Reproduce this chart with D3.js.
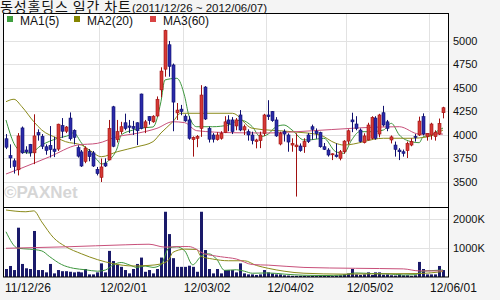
<!DOCTYPE html>
<html>
<head>
<meta charset="utf-8">
<script src="https://cdn.jsdelivr.net/npm/d3@7"></script>
<style>
  body { margin: 0; background: #f4f4f4; }
  svg { display: block; }
</style>
</head>
<body>
<div id="chart"></div>
<script>
// trading days shown on the chart
const dates = [
  "11/12/26","11/12/27","11/12/28","11/12/29",
  "12/01/02","12/01/03","12/01/04","12/01/05","12/01/06","12/01/09","12/01/10","12/01/11","12/01/12","12/01/13",
  "12/01/16","12/01/17","12/01/18","12/01/19","12/01/20","12/01/25","12/01/26","12/01/27","12/01/30","12/01/31",
  "12/02/01","12/02/02","12/02/03","12/02/06","12/02/07","12/02/08","12/02/09","12/02/10","12/02/13","12/02/14",
  "12/02/15","12/02/16","12/02/17","12/02/20","12/02/21","12/02/22","12/02/23","12/02/24","12/02/27","12/02/28","12/02/29",
  "12/03/02","12/03/05","12/03/06","12/03/07","12/03/08","12/03/09","12/03/12","12/03/13","12/03/14","12/03/15",
  "12/03/16","12/03/19","12/03/20","12/03/21","12/03/22","12/03/23","12/03/26","12/03/27","12/03/28","12/03/29","12/03/30",
  "12/04/02","12/04/03","12/04/04","12/04/05","12/04/06","12/04/09","12/04/10","12/04/12","12/04/13","12/04/16",
  "12/04/17","12/04/18","12/04/19","12/04/20","12/04/23","12/04/24","12/04/25","12/04/26","12/04/27","12/04/30",
  "12/05/02","12/05/03","12/05/04","12/05/07","12/05/08","12/05/09","12/05/10","12/05/11","12/05/14","12/05/15",
  "12/05/16","12/05/17","12/05/18","12/05/21","12/05/22","12/05/23","12/05/24","12/05/25","12/05/29","12/05/30","12/05/31",
  "12/06/01","12/06/04","12/06/05","12/06/07"
];

const open  = [3960,3780,3725,3630,4075,3840,3900,3810,4025,3985,3875,3890,3850,3850,4100,4040,4180,4050,3865,3820,
               3720,3825,3810,3635,3550,3700,3735,4300,3950,4035,4130,4096,4090,4130,4436,4082,4195,4140,4202,4480,
               4700,4960,4745,4235,4275,4200,4160,3950,3965,4070,4510,4070,4000,3950,3965,4025,4160,4160,4096,4213,
               4053,4035,4000,3930,3940,4018,4213,4250,4160,3904,4035,4000,3893,3875,3883,3875,4000,4088,4040,4025,
               3875,3840,3790,3787,3752,3822,3935,4160,4117,4053,3918,3947,3965,4180,4010,4237,4140,3947,3893,3840,
               3822,3833,3893,3985,4000,4195,3982,4000,3982,4010,4237];
const high  = [4010,3900,3750,4020,4090,3880,3905,4220,4060,4010,3900,4095,3980,4120,4180,4095,4240,4060,3890,3840,
               3880,3850,3830,3660,3750,3752,4160,4310,4160,4140,4227,4160,4150,4135,4440,4160,4200,4210,4410,4720,
               5120,5000,4760,4340,4320,4220,4200,3985,4000,4530,4520,4090,4020,4030,4040,4200,4210,4190,4180,4265,
               4110,4060,4035,3960,4035,4225,4370,4255,4190,4035,4060,4018,3965,4018,3910,3965,4020,4110,4070,4035,
               3915,3860,3805,3910,3840,3945,4060,4237,4200,4070,4018,4130,4200,4200,4225,4310,4160,3995,3930,3860,
               3845,3930,3965,4010,4195,4230,4018,4130,4050,4175,4300];
const low   = [3850,3650,3590,3570,3800,3800,3770,3690,3940,3850,3790,3760,3765,3830,3970,4020,3940,3900,3760,3660,
               3700,3720,3660,3570,3500,3660,3730,3870,3920,4010,4050,4020,4000,3893,4060,4020,4110,4130,4195,4400,
               4620,4620,4040,4160,4210,4140,3950,3770,3870,3980,4160,3920,3920,3940,3950,4020,4040,4010,4050,4040,
               4000,3940,3900,3858,3860,3990,4160,4140,3980,3890,3930,3822,3822,3345,3822,3810,3915,3950,3960,3865,
               3840,3770,3733,3760,3730,3800,3900,4030,4050,3920,3910,3940,3955,3950,3975,4090,4040,3910,3770,3733,
               3770,3755,3880,3930,3990,3995,3940,3950,3940,4000,4177];
const close = [3870,3755,3665,3990,3810,3820,3810,3990,4000,3880,3835,3845,3825,4115,4040,4085,3960,3975,3775,3670,
               3860,3770,3670,3590,3660,3670,4070,3880,4035,4088,4070,4082,4070,4045,4070,4140,4152,4200,4380,4680,
               5110,4730,4350,4265,4250,4150,3965,3975,3985,4425,4170,3955,3955,4000,4018,4140,4120,4035,4160,4053,
               4088,4000,3940,3947,4000,4213,4195,4152,3990,4018,4010,3925,3910,3893,3833,3930,3930,4060,4015,3875,
               3847,3787,3800,3770,3822,3935,4045,4140,4070,3930,3990,4106,4188,3965,4213,4106,4070,3980,3847,3822,
               3805,3910,3930,3975,4148,4010,4018,4117,4030,4124,4290];
// volume in thousands of shares
const volume = [276,380,240,1700,450,300,276,1587,240,240,160,450,125,240,200,200,180,160,180,160,
                276,90,90,160,470,160,900,550,430,350,240,125,276,450,670,180,240,125,276,670,
                2250,1480,650,350,350,350,390,350,180,2250,930,276,125,276,125,240,240,240,160,470,
                125,90,90,70,90,240,160,120,90,90,60,50,40,40,40,40,30,40,30,40,
                60,40,30,50,60,90,120,276,90,70,90,160,70,160,160,80,90,60,50,90,
                60,60,40,60,520,276,90,90,90,380,240];

// moving averages: day index / value
const ma5Idx  = [0,2,4,6,9,13,16,17,19,20,23,24,26,28,29,32,34,37,39,40,43,45,46,48,52,56,59,62,64,66,68,70,72,75,77,80,83,85,87,89,92,95,97,99,102,104,105,107,109,110];
const ma5Val  = [4159,3911,3822,3808,3893,3965,4000,4024,3915,3862,3734,3691,3734,3862,4000,4053,4074,4085,4354,4585,4603,4407,4213,4088,4088,4106,4159,4088,3982,4010,4088,4106,4053,3947,3950,3965,3822,3805,3947,4035,4035,4053,4124,4000,3929,3918,3982,4000,4053,4074];
const ma20Idx = [0,2,4,7,9,13,15,19,21,24,28,33,37,39,42,44,57,62,72,79,83,85,95,102,106,110];
const ma20Val = [4354,4380,4301,4141,4053,3965,3929,3893,3840,3769,3822,3875,3929,4021,4141,4231,4231,4071,4035,4000,3912,3893,3965,3965,3979,4053];
const ma60Idx = [0,4,11,18,23,28,33,38,42,45,48,57,65,74,82,89,99,104,110];
const ma60Val = [3585,3649,3769,3893,3911,3982,4018,4071,4141,4131,4046,4024,4021,4037,4058,4076,4088,4010,4010];

const vma5Idx  = [0,3,6,9,11,14,17,20,23,25,27,29,31,33,35,37,39,41,43,45,47,49,51,53,55,58,60,62,66,70,75,80,85,88,92,96,100,103,105,107,110];
const vma5Val  = [1560,990,960,900,700,430,300,250,200,240,420,500,420,330,380,330,420,1000,1040,900,420,700,800,620,230,250,200,130,140,100,60,50,70,140,120,110,70,80,200,220,240];
const vma20Idx = [0,5,7,9,12,15,19,23,27,32,36,39,41,42,45,48,49,52,56,60,63,66,70,75,85,95,104,110];
const vma20Val = [2310,2250,2280,1900,1350,1050,800,600,460,380,400,450,600,850,960,950,720,620,560,560,400,300,200,130,100,110,120,190];
const vma60Idx = [0,15,30,36,40,44,46,50,54,58,62,66,75,88,100,104,110];
const vma60Val = [990,1040,1110,1130,1030,1050,1050,800,700,620,430,410,330,300,280,210,210];

const priceTicks = [3500,3750,4000,4250,4500,4750,5000];
const volTicks = [1000,2000];
const dateTicks = ["11/12/26","12/02/01","12/03/02","12/04/02","12/05/02","12/06/01"];
const legendNames = ["MA1(5)","MA2(20)","MA3(60)"];
const titleName = "동성홀딩스 일간 차트";
const titleRange = "(2011/12/26 ~ 2012/06/07)";

const W = 500, H = 300;
const left = 4, right = 448.5, priceTop = 14, priceBottom = 207, volBottom = 277;
const upColor = "#d43a36", upLine = "#a01010", downColor = "#2a2aa8", downLine = "#10106e";
const maColors = ["#3d963d", "#8a8a1a", "#c8507a"];
const legendColors = ["#3f9f3f", "#858500", "#d94444"];
const font = "Liberation Sans, Arial, sans-serif";

const svg = d3.select("#chart").append("svg")
  .attr("width", W).attr("height", H);

svg.append("rect").attr("width", W).attr("height", H).attr("fill", "#f4f4f4");
svg.append("rect").attr("x", left).attr("y", priceTop)
  .attr("width", right - left).attr("height", volBottom - priceTop).attr("fill", "#fff");

const x = d3.scaleBand().domain(dates).range([left, 445]).padding(0);
const bw = x.bandwidth();
const cx = d => x(d) + bw / 2;

const y = d3.scaleLinear().domain([3234, 5287]).range([priceBottom, priceTop]);
const yv = d3.scaleLinear().domain([0, 2414]).range([volBottom, priceBottom]);

// grid
const grid = svg.append("g").attr("stroke", "#e2e2e2").attr("stroke-width", 1);
grid.selectAll(".hp").data(priceTicks).join("line")
  .attr("x1", left).attr("x2", right)
  .attr("y1", d => Math.round(y(d)) + 0.5).attr("y2", d => Math.round(y(d)) + 0.5);
grid.selectAll(".hv").data(volTicks).join("line")
  .attr("x1", left).attr("x2", right)
  .attr("y1", d => Math.round(yv(d)) + 0.5).attr("y2", d => Math.round(yv(d)) + 0.5);
grid.selectAll(".vt").data(dateTicks.slice(1)).join("line")
  .attr("x1", d => Math.round(x(d)) + 0.5).attr("x2", d => Math.round(x(d)) + 0.5)
  .attr("y1", priceTop).attr("y2", volBottom);

// watermark
svg.append("text").attr("x", 4).attr("y", 198)
  .attr("font-family", font)
  .attr("font-size", 17).attr("font-weight", "bold")
  .attr("fill", "#d6d6d6").text("©PAXNet");

svg.append("defs").append("clipPath").attr("id", "clipP")
  .append("rect").attr("x", left).attr("y", priceTop).attr("width", right - left).attr("height", priceBottom - priceTop);
svg.select("defs").append("clipPath").attr("id", "clipV")
  .append("rect").attr("x", left).attr("y", priceBottom).attr("width", right - left).attr("height", volBottom - priceBottom);

// price MA lines
const maLine = (scale) => d3.line()
  .x(d => cx(dates[d[0]])).y(d => scale(d[1]))
  .curve(d3.curveMonotoneX);

const priceMAs = [[ma5Idx, ma5Val], [ma20Idx, ma20Val], [ma60Idx, ma60Val]];
const gma = svg.append("g").attr("clip-path", "url(#clipP)");
priceMAs.forEach((m, k) => {
  gma.append("path")
    .datum(d3.zip(m[0], m[1]))
    .attr("fill", "none").attr("stroke", maColors[k]).attr("stroke-width", 1)
    .attr("d", maLine(y));
});

// candles
const candles = dates.map((d, i) => ({ d, o: open[i], h: high[i], l: low[i], c: close[i] }));
const cg = svg.append("g").attr("clip-path", "url(#clipP)");
cg.selectAll("line.wick").data(candles).join("line")
  .attr("x1", d => Math.round(cx(d.d)) + 0.5).attr("x2", d => Math.round(cx(d.d)) + 0.5)
  .attr("y1", d => y(d.h)).attr("y2", d => y(d.l))
  .attr("stroke", d => d.c >= d.o ? upLine : downLine);
cg.selectAll("rect.body").data(candles).join("rect")
  .attr("x", d => Math.round(cx(d.d)) - 1)
  .attr("width", 3)
  .attr("y", d => y(Math.max(d.o, d.c)))
  .attr("height", d => Math.max(1, Math.abs(y(d.o) - y(d.c))))
  .attr("fill", d => d.c >= d.o ? upColor : downColor)
  .attr("stroke", d => d.c >= d.o ? upLine : downLine)
  .attr("stroke-width", 0.6);

// volume bars
const vg = svg.append("g").attr("clip-path", "url(#clipV)");
vg.selectAll("rect").data(volume).join("rect")
  .attr("x", (d, i) => Math.round(cx(dates[i])) - 1)
  .attr("width", 3)
  .attr("y", d => yv(d))
  .attr("height", d => yv(0) - yv(d))
  .attr("fill", "#1a1a6a");

const volMAs = [[vma5Idx, vma5Val], [vma20Idx, vma20Val], [vma60Idx, vma60Val]];
volMAs.forEach((m, k) => {
  vg.append("path")
    .datum(d3.zip(m[0], m[1]))
    .attr("fill", "none").attr("stroke", maColors[k]).attr("stroke-width", 1)
    .attr("d", maLine(yv));
});

// frame
const frame = svg.append("g").attr("stroke", "#000").attr("fill", "none");
frame.append("rect").attr("x", left - 0.5).attr("y", priceTop - 0.5)
  .attr("width", right - left + 0.5).attr("height", volBottom - priceTop + 0.5);
frame.append("line").attr("x1", left).attr("x2", right)
  .attr("y1", priceBottom + 0.5).attr("y2", priceBottom + 0.5);

// axis labels
svg.append("g").selectAll("text").data(priceTicks).join("text")
  .attr("x", 453).attr("y", d => y(d) + 4)
  .attr("font-family", font).attr("font-size", 11).attr("fill", "#111")
  .text(d => d);
svg.append("g").selectAll("text").data(volTicks).join("text")
  .attr("x", 453).attr("y", d => yv(d) + 4)
  .attr("font-family", font).attr("font-size", 11).attr("fill", "#111")
  .text(d => d + "K");
svg.append("g").selectAll("text").data(dateTicks).join("text")
  .attr("x", d => x(d) + 1).attr("y", 292)
  .attr("font-family", font).attr("font-size", 12).attr("fill", "#111")
  .text(d => d);

// title: hangul part stretched to the width it has in the original
svg.append("text").attr("x", 0).attr("y", 12).attr("fill", "#111")
  .attr("font-family", "'Noto Sans CJK KR', sans-serif")
  .attr("font-size", 14)
  .attr("textLength", 131).attr("lengthAdjust", "spacing")
  .text(titleName);
svg.append("text").attr("x", 132).attr("y", 11.5).attr("fill", "#111")
  .attr("font-family", font).attr("font-size", 11.5)
  .text(titleRange);

// legend
const lx = [7, 74, 150];
const lg = svg.append("g");
legendNames.forEach((n, k) => {
  lg.append("rect").attr("x", lx[k]).attr("y", 16).attr("width", 6).attr("height", 6)
    .attr("fill", legendColors[k]);
  lg.append("text").attr("x", lx[k] + 13).attr("y", 24.5)
    .attr("font-family", font).attr("font-size", 12).attr("fill", "#111")
    .text(n);
});
</script>
</body>
</html>
